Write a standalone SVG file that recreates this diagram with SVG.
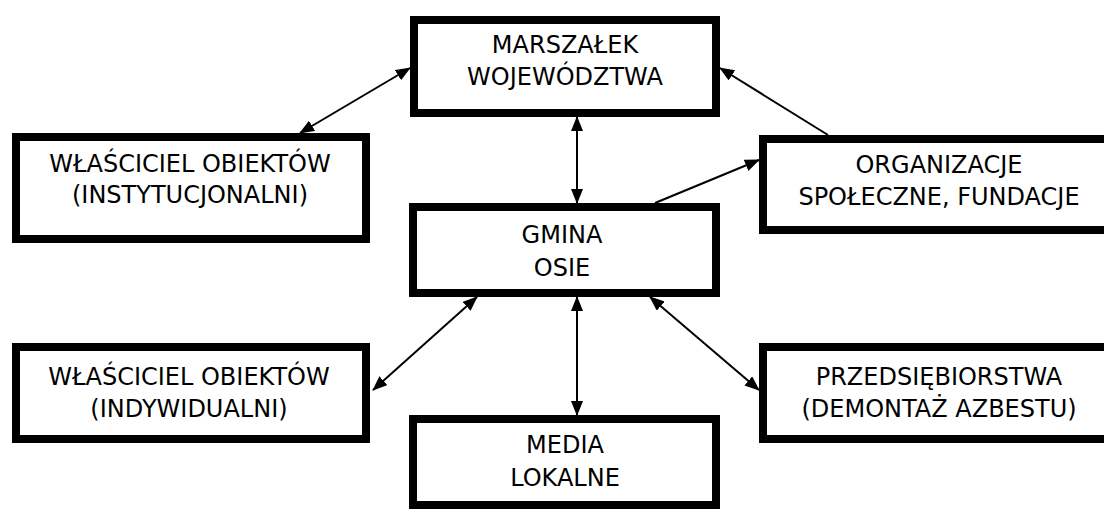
<svg xmlns="http://www.w3.org/2000/svg" width="1104" height="509" viewBox="0 0 1104 509">
<style>
.box{fill:#fff;stroke:#000;stroke-width:8}
.lbl{font-family:"DejaVu Sans","Liberation Sans",sans-serif;font-size:24px;fill:#000;text-anchor:middle}
.con{stroke:#000;stroke-width:2;fill:none}
</style>
<defs>
<marker id="ah" markerUnits="userSpaceOnUse" markerWidth="15" markerHeight="12" refX="14" refY="6" orient="auto-start-reverse" viewBox="0 0 15 12">
<path d="M0,0 L15,6 L0,12 z" fill="#000"/>
</marker>
</defs>
<rect width="1104" height="509" fill="#fff"/>
<g id="connectors">
<line class="con" x1="300" y1="133" x2="410" y2="68" marker-start="url(#ah)" marker-end="url(#ah)"/>
<line class="con" x1="577" y1="117" x2="577" y2="203" marker-start="url(#ah)" marker-end="url(#ah)"/>
<line class="con" x1="655" y1="203" x2="759" y2="160" marker-end="url(#ah)"/>
<line class="con" x1="828" y1="135" x2="720" y2="68" marker-end="url(#ah)"/>
<line class="con" x1="373" y1="390" x2="477" y2="297" marker-start="url(#ah)" marker-end="url(#ah)"/>
<line class="con" x1="577" y1="297" x2="577" y2="415" marker-start="url(#ah)" marker-end="url(#ah)"/>
<line class="con" x1="650" y1="297" x2="759" y2="390" marker-start="url(#ah)" marker-end="url(#ah)"/>
</g>
<g id="marszalek">
<rect class="box" x="414" y="20" width="302" height="93"/>
<text class="lbl" x="565" y="53">MARSZAŁEK</text>
<text class="lbl" x="565" y="85">WOJEWÓDZTWA</text>
</g>
<g id="wlasciciel-inst">
<rect class="box" x="16" y="137" width="350" height="102"/>
<text class="lbl" x="190" y="172">WŁAŚCICIEL OBIEKTÓW</text>
<text class="lbl" x="190" y="203">(INSTYTUCJONALNI)</text>
</g>
<g id="organizacje">
<rect class="box" x="763" y="139" width="353" height="91"/>
<text class="lbl" x="939" y="173">ORGANIZACJE</text>
<text class="lbl" x="939" y="205">SPOŁECZNE, FUNDACJE</text>
</g>
<g id="gmina">
<rect class="box" x="413" y="207" width="303" height="86"/>
<text class="lbl" x="562" y="243">GMINA</text>
<text class="lbl" x="562" y="276">OSIE</text>
</g>
<g id="wlasciciel-ind">
<rect class="box" x="16" y="347" width="350" height="92"/>
<text class="lbl" x="189" y="385">WŁAŚCICIEL OBIEKTÓW</text>
<text class="lbl" x="189" y="417">(INDYWIDUALNI)</text>
</g>
<g id="przedsiebiorstwa">
<rect class="box" x="763" y="347" width="353" height="92"/>
<text class="lbl" x="939" y="385">PRZEDSIĘBIORSTWA</text>
<text class="lbl" x="939" y="417">(DEMONTAŻ AZBESTU)</text>
</g>
<g id="media">
<rect class="box" x="413" y="419" width="303" height="86"/>
<text class="lbl" x="565" y="453">MEDIA</text>
<text class="lbl" x="565" y="486">LOKALNE</text>
</g>
</svg>
